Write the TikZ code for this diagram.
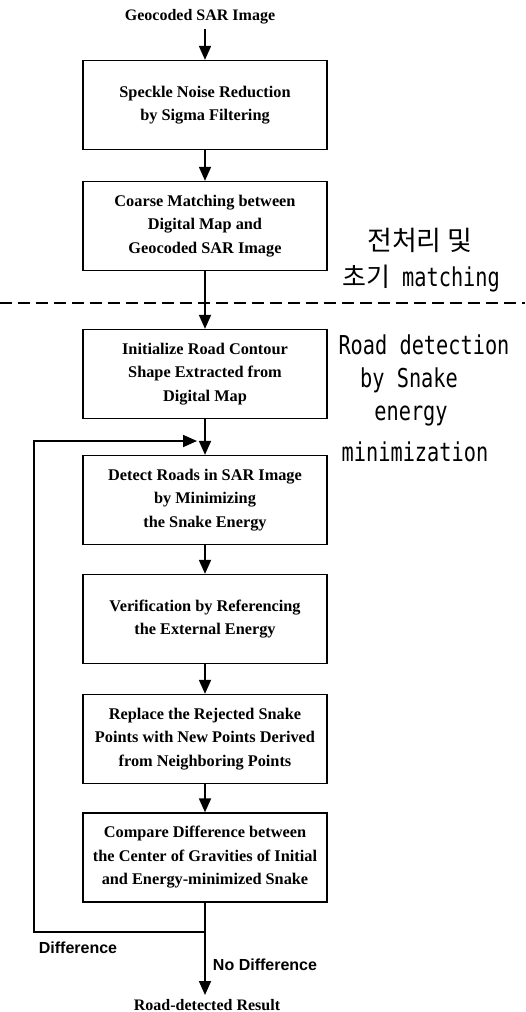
\documentclass[tikz,border=0pt]{standalone}
\usepackage{fontspec}
\setmainfont{Liberation Serif}
\newfontfamily\monofam[FakeStretch=0.78]{DejaVu Sans Mono}
\newfontfamily\korfam{Noto Sans CJK KR}
\newfontfamily\arialfam{Liberation Sans}
\usetikzlibrary{arrows.meta}
\begin{document}
\begin{tikzpicture}[x=1pt,y=-1pt,
  box/.style={draw,line width=1.3pt,minimum width=244pt,minimum height=89pt,inner sep=2pt,
    align=center,font=\bfseries\fontsize{16.3}{23.5}\selectfont},
  arr/.style={line width=1.8pt,-{Triangle[length=14pt,width=12pt]}},
  plain/.style={line width=1.8pt},
  seriflbl/.style={font=\bfseries\fontsize{16}{18}\selectfont,inner sep=0pt},
  sanslbl/.style={font=\arialfam\bfseries\fontsize{16}{18}\selectfont,inner sep=0pt},
  monolbl/.style={font=\monofam\fontsize{26}{30}\selectfont,inner sep=0pt},
  korlbl/.style={font=\korfam\fontsize{27}{30}\selectfont,inner sep=0pt}]
\useasboundingbox (0,0) rectangle (525,1012);

\node[seriflbl] (src) at (200,17) {Geocoded SAR Image};
\node[box] (b1) at (205,105) {Speckle Noise Reduction\\by Sigma Filtering};
\node[box] (b2) at (205,226) {Coarse Matching between\\Digital Map and\\Geocoded SAR Image};
\node[box] (b3) at (205,374) {Initialize Road Contour\\Shape Extracted from\\Digital Map};
\node[box] (b4) at (205,500) {Detect Roads in SAR Image\\by Minimizing\\the Snake Energy};
\node[box] (b5) at (205,619) {Verification by Referencing\\the External Energy};
\node[box] (b6) at (205,739) {Replace the Rejected Snake\\Points with New Points Derived\\from Neighboring Points};
\node[box] (b7) at (205,857.5) {Compare Difference between\\the Center of Gravities of Initial\\and Energy-minimized Snake};
\node[seriflbl] (res) at (207,1005) {Road-detected Result};

\node[korlbl] (k1) at (420,240) {전처리 및};
\node[monolbl] (k2) at (421,279) {{\korfam\fontsize{26}{28}\selectfont 초기} matching};
\node[monolbl] (r1) at (424,345) {Road detection};
\node[monolbl] (r2) at (409,380) {by Snake};
\node[monolbl] (r3) at (411,416) {energy};
\node[monolbl] (r4) at (415,452) {minimization};

\node[sanslbl] (dif) at (78,948) {Difference};
\node[sanslbl] (nodif) at (265,965) {No Difference};

\draw[line width=1.5pt,dash pattern=on 12pt off 6pt] (0,303) -- (525,303);

\coordinate (s0) at (205,29);
\coordinate (e0) at (205,995);
\draw[arr] (s0) -- (b1.north);
\draw[arr] (b1.south) -- (b2.north);
\draw[arr] (b2.south) -- (b3.north);
\draw[arr] (b3.south) -- (b4.north);
\draw[arr] (b4.south) -- (b5.north);
\draw[arr] (b5.south) -- (b6.north);
\draw[arr] (b6.south) -- (b7.north);

\coordinate (j) at (205,932);
\coordinate (lb) at (34,932);
\coordinate (lu) at (34,441);
\coordinate (lt) at (197,441);
\draw[plain] (b7.south) -- (j);
\draw[arr] (j) -- (lb) -- (lu) -- (lt);
\draw[arr] (j) -- (e0);
\end{tikzpicture}
\end{document}
